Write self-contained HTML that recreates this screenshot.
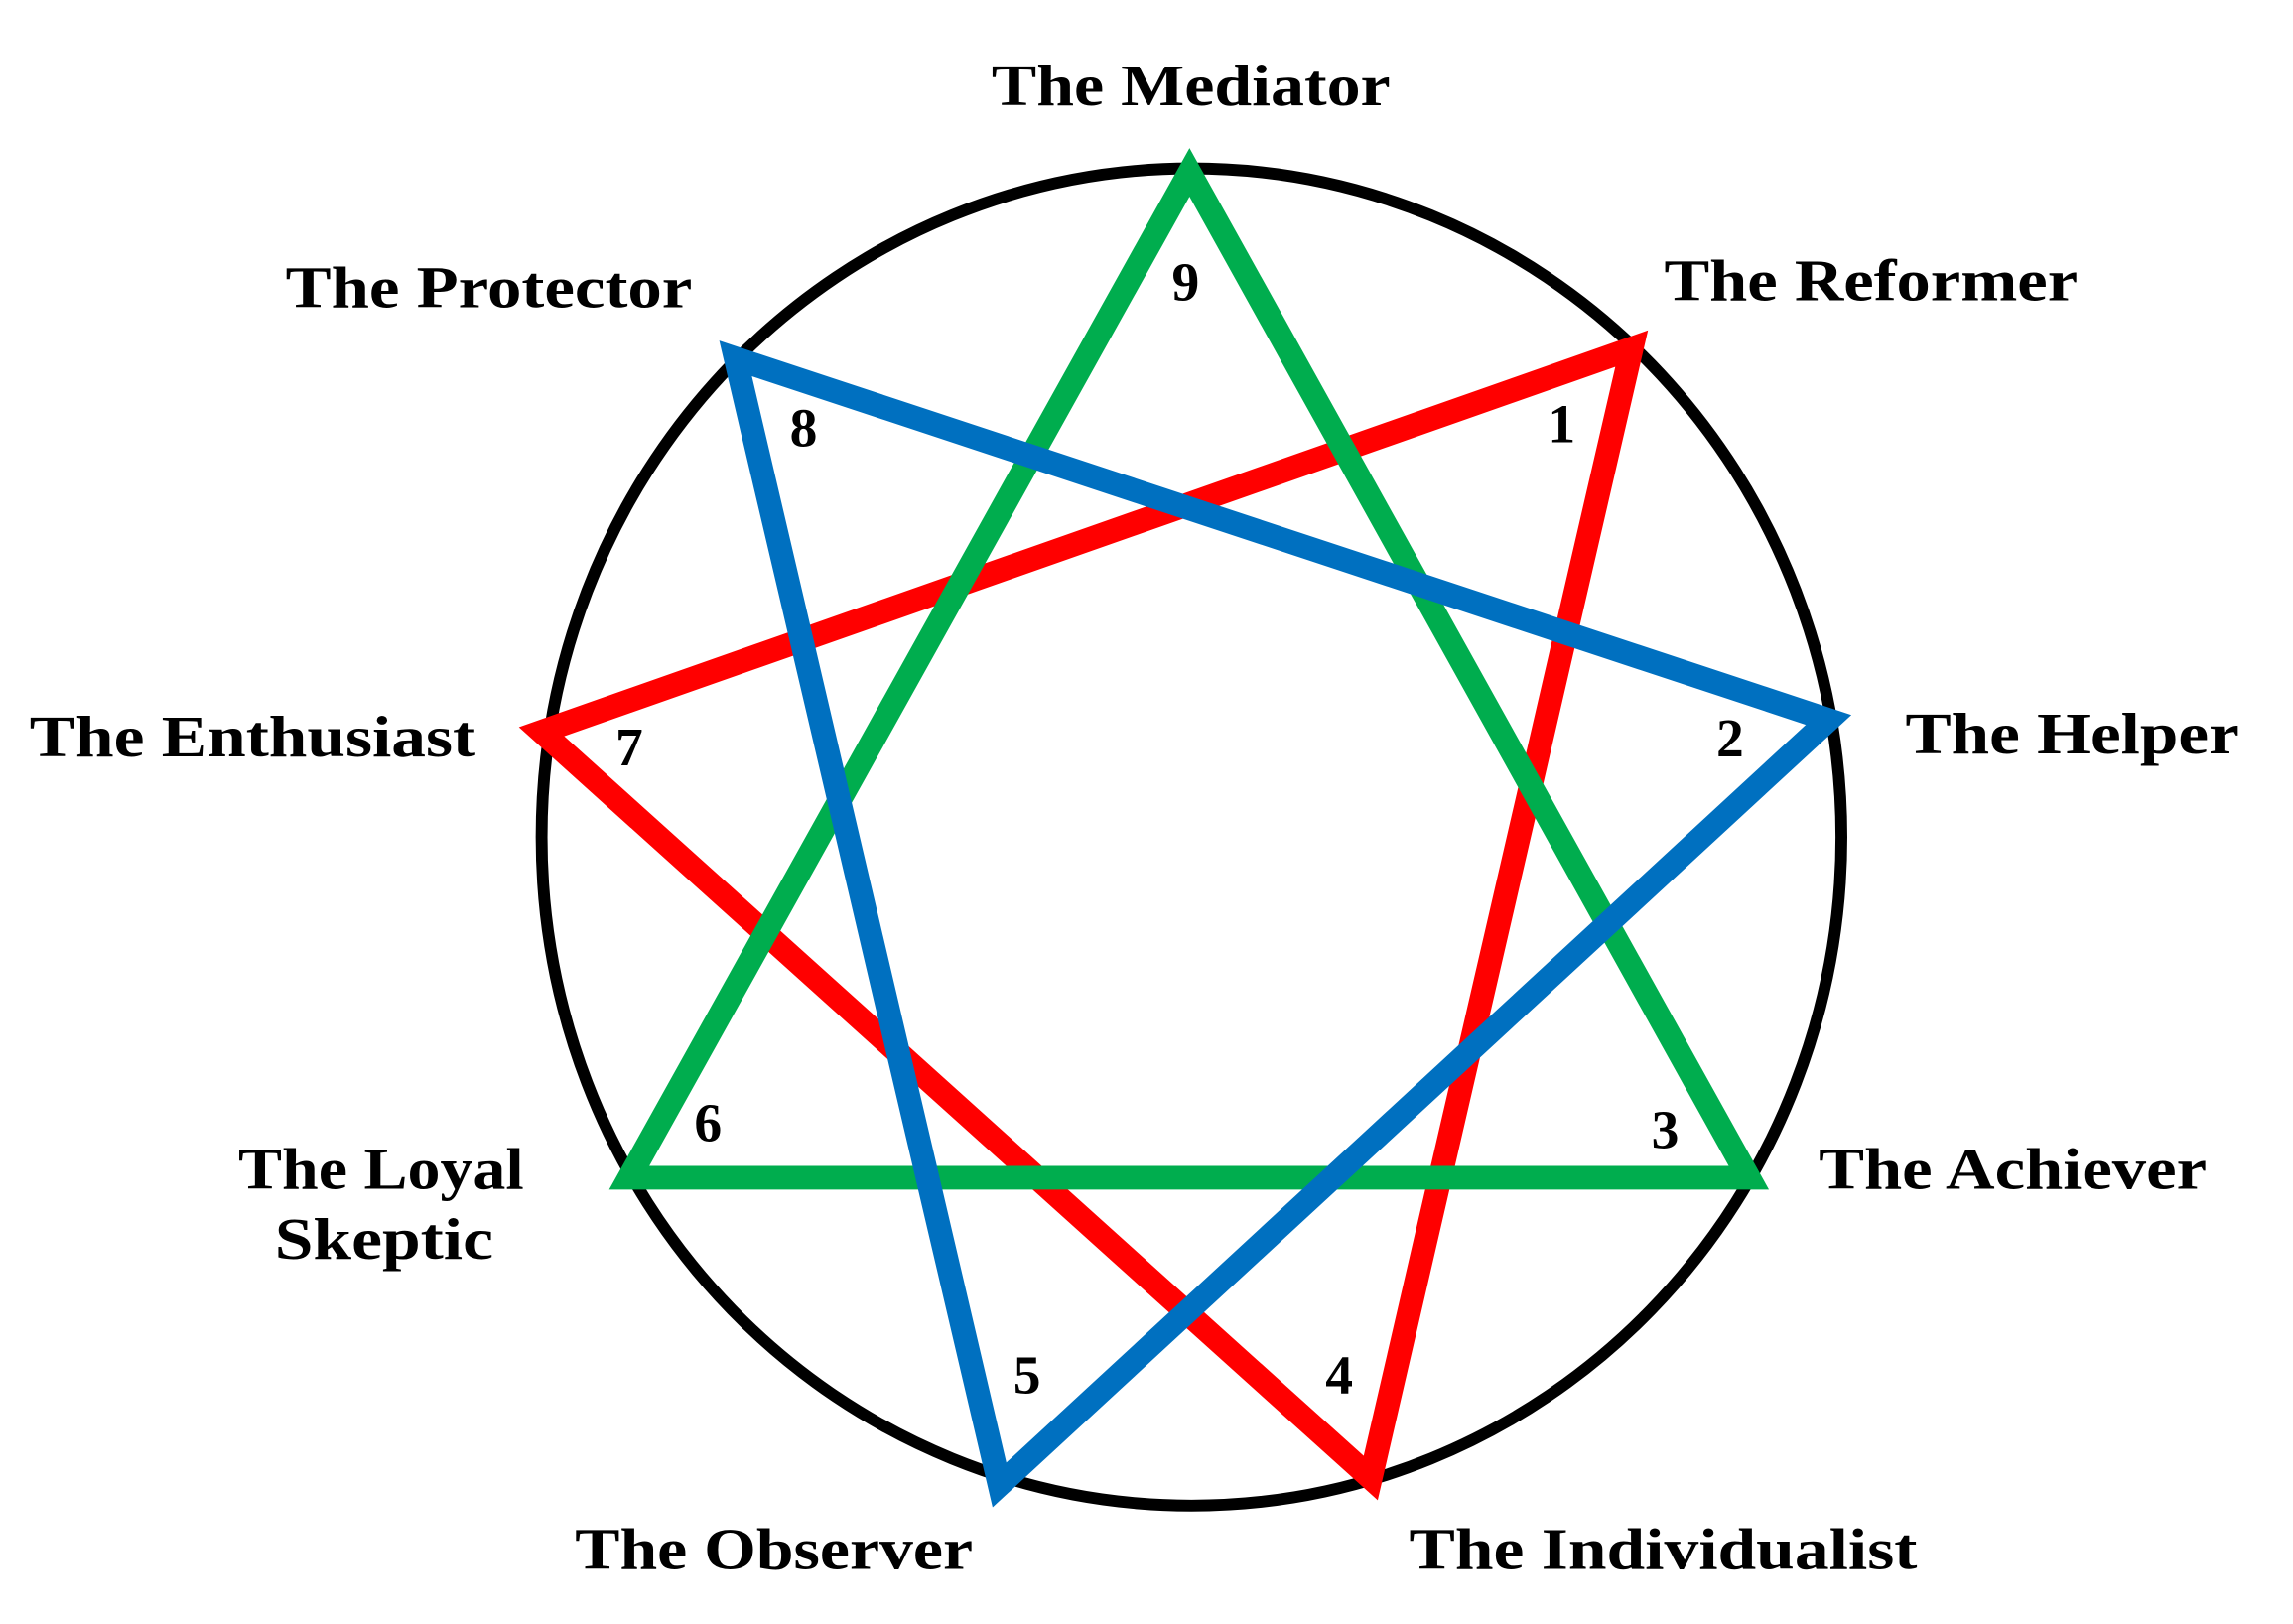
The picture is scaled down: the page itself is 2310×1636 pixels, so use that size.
<!DOCTYPE html>
<html><head><meta charset="utf-8"><style>html,body{margin:0;padding:0;background:#fff}svg{display:block}</style></head>
<body>
<svg width="2310" height="1636" viewBox="0 0 2310 1636" xmlns="http://www.w3.org/2000/svg">
<rect width="2310" height="1636" fill="#fff"/>
<g transform="scale(0.992)">
<ellipse cx="1210" cy="850" rx="660" ry="679" fill="none" stroke="#000" stroke-width="12"/>
<g fill="none" stroke-width="24" stroke-linejoin="miter" stroke-miterlimit="10">
<polygon points="1657,354 1392,1501 550,743" stroke="#ff0000"/>
<polygon points="1208,175 1776,1196 639,1196" stroke="#00ad4e"/>
<polygon points="747,364 1015,1508 1857,731" stroke="#0070c0"/>
</g>
<g font-family="Liberation Serif, serif" font-weight="bold" font-size="60" fill="#000">
<text x="1007" y="107" textLength="405" lengthAdjust="spacingAndGlyphs">The Mediator</text>
<text x="290" y="312" textLength="413" lengthAdjust="spacingAndGlyphs">The Protector</text>
<text x="1690" y="305" textLength="420" lengthAdjust="spacingAndGlyphs">The Reformer</text>
<text x="30" y="768" textLength="453" lengthAdjust="spacingAndGlyphs">The Enthusiast</text>
<text x="1935" y="765" textLength="339" lengthAdjust="spacingAndGlyphs">The Helper</text>
<text x="242" y="1207" textLength="290" lengthAdjust="spacingAndGlyphs">The Loyal</text>
<text x="279" y="1278" textLength="222" lengthAdjust="spacingAndGlyphs">Skeptic</text>
<text x="1847" y="1207" textLength="394" lengthAdjust="spacingAndGlyphs">The Achiever</text>
<text x="584" y="1593" textLength="404" lengthAdjust="spacingAndGlyphs">The Observer</text>
<text x="1431" y="1593" textLength="516" lengthAdjust="spacingAndGlyphs">The Individualist</text>
</g>
<g font-family="Liberation Serif, serif" font-weight="bold" font-size="56" fill="#000" text-anchor="middle">
<text x="1204" y="305">9</text>
<text x="1586" y="449">1</text>
<text x="1757" y="768">2</text>
<text x="1691" y="1166">3</text>
<text x="1360" y="1415">4</text>
<text x="1043" y="1415">5</text>
<text x="719" y="1159">6</text>
<text x="639" y="777">7</text>
<text x="816" y="453">8</text>
</g>
</g>
</svg>
</body></html>
